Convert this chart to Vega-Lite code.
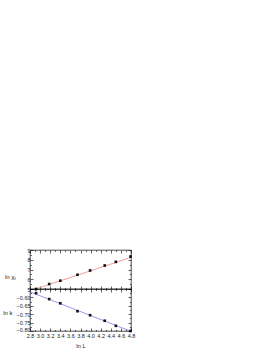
{
  "$schema": "https://vega.github.io/schema/vega-lite/v6.json",
  "padding": {"left": 2, "top": 247, "right": 5, "bottom": 5},
  "background": "white",
  "config": {
    "font": "Liberation Sans",
    "view": {"stroke": "black", "strokeWidth": 0.7},
    "axis": {"grid": false, "domain": false, "tickColor": "black", "tickWidth": 0.6, "labelFontSize": 5.5, "labelColor": "#222", "titleFontSize": 6, "titleFontWeight": "normal", "titleColor": "#222"}
  },
  "spacing": 0,
  "bounds": "flush",
  "datasets": {
    "chi": [
      {"x": 2.92, "y": 5.0}, {"x": 3.18, "y": 5.51}, {"x": 3.40, "y": 5.85}, {"x": 3.74, "y": 6.46},
      {"x": 3.99, "y": 6.9}, {"x": 4.28, "y": 7.41}, {"x": 4.50, "y": 7.78}, {"x": 4.79, "y": 8.32}
    ],
    "chifit": [{"x": 2.9, "y": 4.98}, {"x": 4.8, "y": 8.24}],
    "k": [
      {"x": 2.92, "y": -0.5745}, {"x": 3.18, "y": -0.610}, {"x": 3.40, "y": -0.635}, {"x": 3.74, "y": -0.682},
      {"x": 3.99, "y": -0.706}, {"x": 4.28, "y": -0.739}, {"x": 4.50, "y": -0.769}, {"x": 4.79, "y": -0.80}
    ],
    "kfit": [{"x": 2.8, "y": -0.567}, {"x": 4.8, "y": -0.802}]
  },
  "vconcat": [
    {
      "width": 101, "height": 39,
      "layer": [
        {
          "data": {"name": "chifit"},
          "mark": {"type": "line", "color": "#f08080", "strokeWidth": 0.8, "clip": true},
          "encoding": {
            "x": {"field": "x", "type": "quantitative", "scale": {"domain": [2.8, 4.8], "nice": false}, "axis": {"orient": "bottom", "title": null, "labels": false, "values": [2.8,2.9,3.0,3.1,3.2,3.3,3.4,3.5,3.6,3.7,3.8,3.9,4.0,4.1,4.2,4.3,4.4,4.5,4.6,4.7,4.8], "tickSize": {"condition": {"test": "abs(round(datum.value*10)) % 2 == 0", "value": -3}, "value": -1.5}}},
            "y": {"field": "y", "type": "quantitative", "scale": {"domain": [5, 9], "nice": false, "zero": false}, "axis": {"orient": "left", "title": "ln χₛ", "titleAngle": 0, "titleAlign": "right", "titleBaseline": "middle", "titleX": -14, "titleY": 26, "values": [5,5.5,6,6.5,7,7.5,8,8.5,9], "labelExpr": "abs(round(datum.value*2)) % 2 == 0 ? format(datum.value, '.0f') : ''", "labelPadding": 3, "tickSize": {"condition": {"test": "abs(round(datum.value*2)) % 2 == 0", "value": -3}, "value": -1.5}}}
          }
        },
        {
          "data": {"name": "chi"},
          "mark": {"type": "square", "color": "#111", "size": 7, "opacity": 1},
          "encoding": {
            "x": {"field": "x", "type": "quantitative", "scale": {"domain": [2.8, 4.8], "nice": false}, "axis": {"orient": "top", "title": null, "labels": false, "values": [2.8,2.9,3.0,3.1,3.2,3.3,3.4,3.5,3.6,3.7,3.8,3.9,4.0,4.1,4.2,4.3,4.4,4.5,4.6,4.7,4.8], "tickSize": {"condition": {"test": "abs(round(datum.value*10)) % 2 == 0", "value": -3}, "value": -1.5}}},
            "y": {"field": "y", "type": "quantitative", "scale": {"domain": [5, 9], "nice": false, "zero": false}, "axis": {"orient": "right", "title": null, "labels": false, "values": [5,5.5,6,6.5,7,7.5,8,8.5,9], "tickSize": {"condition": {"test": "abs(round(datum.value*2)) % 2 == 0", "value": -3}, "value": -1.5}}}
          }
        }
      ],
      "resolve": {"axis": {"x": "independent", "y": "independent"}}
    },
    {
      "width": 101, "height": 42,
      "layer": [
        {
          "data": {"name": "kfit"},
          "mark": {"type": "line", "color": "#8080f0", "strokeWidth": 0.8, "clip": true},
          "encoding": {
            "x": {"field": "x", "type": "quantitative", "scale": {"domain": [2.8, 4.8], "nice": false}, "axis": {"orient": "bottom", "title": "ln L", "titlePadding": 2, "values": [2.8,2.9,3.0,3.1,3.2,3.3,3.4,3.5,3.6,3.7,3.8,3.9,4.0,4.1,4.2,4.3,4.4,4.5,4.6,4.7,4.8], "labelExpr": "abs(round(datum.value*10)) % 2 == 0 ? format(datum.value, '.1f') : ''", "labelPadding": 5, "labelFlush": false, "labelOverlap": false, "tickSize": {"condition": {"test": "abs(round(datum.value*10)) % 2 == 0", "value": -3}, "value": -1.5}}},
            "y": {"field": "y", "type": "quantitative", "scale": {"domain": [-0.8, -0.55], "nice": false, "zero": false}, "axis": {"orient": "left", "title": "ln k", "titleAngle": 0, "titleAlign": "right", "titleBaseline": "middle", "titleX": -18, "titleY": 23, "values": [-0.8,-0.775,-0.75,-0.725,-0.7,-0.675,-0.65,-0.625,-0.6,-0.575,-0.55], "labelExpr": "abs(round(datum.value*40)) % 2 == 0 && datum.value < -0.56 ? format(datum.value, '.2f') : ''", "labelPadding": 3, "labelBaseline": {"condition": {"test": "datum.value < -0.79", "value": "alphabetic"}, "value": "middle"}, "tickSize": {"condition": {"test": "abs(round(datum.value*40)) % 2 == 0", "value": -3}, "value": -1.5}}}
          }
        },
        {
          "data": {"name": "k"},
          "mark": {"type": "square", "color": "#111", "size": 7, "opacity": 1},
          "encoding": {
            "x": {"field": "x", "type": "quantitative", "scale": {"domain": [2.8, 4.8], "nice": false}, "axis": {"orient": "top", "title": null, "labels": false, "values": [2.8,2.9,3.0,3.1,3.2,3.3,3.4,3.5,3.6,3.7,3.8,3.9,4.0,4.1,4.2,4.3,4.4,4.5,4.6,4.7,4.8], "tickSize": {"condition": {"test": "abs(round(datum.value*10)) % 2 == 0", "value": -3}, "value": -1.5}}},
            "y": {"field": "y", "type": "quantitative", "scale": {"domain": [-0.8, -0.55], "nice": false, "zero": false}, "axis": {"orient": "right", "title": null, "labels": false, "values": [-0.8,-0.775,-0.75,-0.725,-0.7,-0.675,-0.65,-0.625,-0.6,-0.575,-0.55], "tickSize": {"condition": {"test": "abs(round(datum.value*40)) % 2 == 0", "value": -3}, "value": -1.5}}}
          }
        }
      ],
      "resolve": {"axis": {"x": "independent", "y": "independent"}}
    }
  ]
}
